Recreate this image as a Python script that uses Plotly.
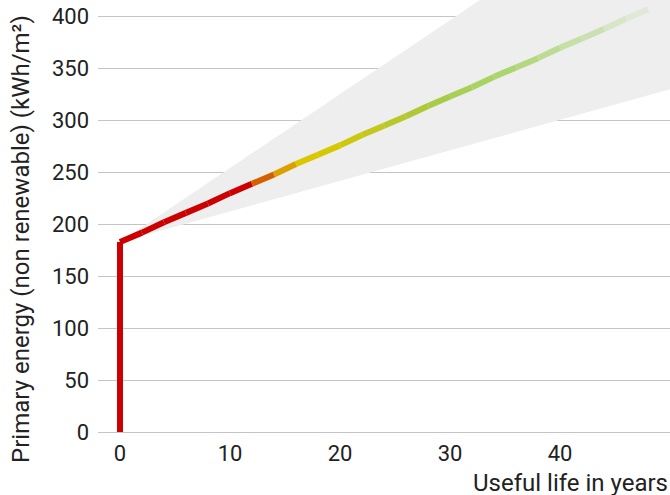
import plotly.graph_objects as go

# Data
years = [0, 2, 4, 6, 8, 10, 12, 14, 16, 18, 20, 22, 24, 26, 28, 30, 32, 34, 36, 38, 40, 42, 44, 46, 48]
energy = [183, 192, 202, 211, 220, 230, 239, 248, 258, 267, 276, 286, 295, 304, 314, 323, 332, 342, 351, 360, 370, 379, 388, 398, 407]
segment_colors = [
    "#cc0000", "#cc0000", "#cc0000", "#cc0000", "#cc0000", "#cc0000",
    "#d45f00", "#dca000", "#dcc600", "#d6c800", "#ccc810", "#c4c81e",
    "#b8c828", "#b0c838", "#a8cc48", "#a8d058", "#a8d464", "#acd470",
    "#b4d880", "#bcdc94", "#c4e0a4", "#ccdfb4", "#d8e6c8", "#e0e8d8",
]
start_years = [0, 0]
start_energy = [0, 183]
cone_years = [0, 50, 50, 0]
cone_energy = [183, 539, 330, 183]

x_ticks = [0, 10, 20, 30, 40]
y_ticks = [0, 50, 100, 150, 200, 250, 300, 350, 400]

FONT = "Roboto"
TICK_SIZE = 22
TITLE_SIZE = 24
fig = go.Figure()

fig.add_trace(go.Scatter(
    x=cone_years, y=cone_energy, mode="lines", fill="toself",
    fillcolor="#eeeeee", line=dict(width=0), hoverinfo="skip", showlegend=False,
))

fig.add_trace(go.Scatter(
    x=start_years, y=start_energy, mode="lines",
    line=dict(color=segment_colors[0], width=6), showlegend=False,
))

for i, c in enumerate(segment_colors):
    fig.add_trace(go.Scatter(
        x=years[i:i + 2], y=energy[i:i + 2], mode="lines",
        line=dict(color=c, width=6), showlegend=False,
    ))

fig.update_layout(
    width=670, height=495,
    margin=dict(l=98, r=0, t=0, b=63),
    paper_bgcolor="white", plot_bgcolor="white",
    font=dict(family=FONT, size=TICK_SIZE, color="#222222"),
    xaxis=dict(range=[-2, 50], tickvals=x_ticks, showgrid=False, zeroline=False,
               showline=False, ticks="", ticklabelstandoff=6),
    yaxis=dict(range=[0, 416], tickvals=y_ticks, showgrid=True, gridcolor="#c4c4c4",
               gridwidth=1, zeroline=True, zerolinecolor="#c4c4c4", zerolinewidth=1,
               showline=False, ticks="", ticklabelstandoff=8),
    annotations=[
        dict(text="Primary energy (non renewable) (kWh/m²)", xref="paper", yref="paper",
             x=-0.1346, y=0.447, xanchor="center", yanchor="middle", textangle=-90,
             showarrow=False, font=dict(family=FONT, size=TITLE_SIZE, color="#222222")),
        dict(text="Useful life in years", xref="paper", yref="paper",
             x=1.0, y=-0.118, xanchor="right", yanchor="middle",
             showarrow=False, font=dict(family=FONT, size=TITLE_SIZE, color="#222222")),
    ],
)

fig.write_html("out.html", config={"displayModeBar": False},
               post_script="document.body.style.margin='0';")
